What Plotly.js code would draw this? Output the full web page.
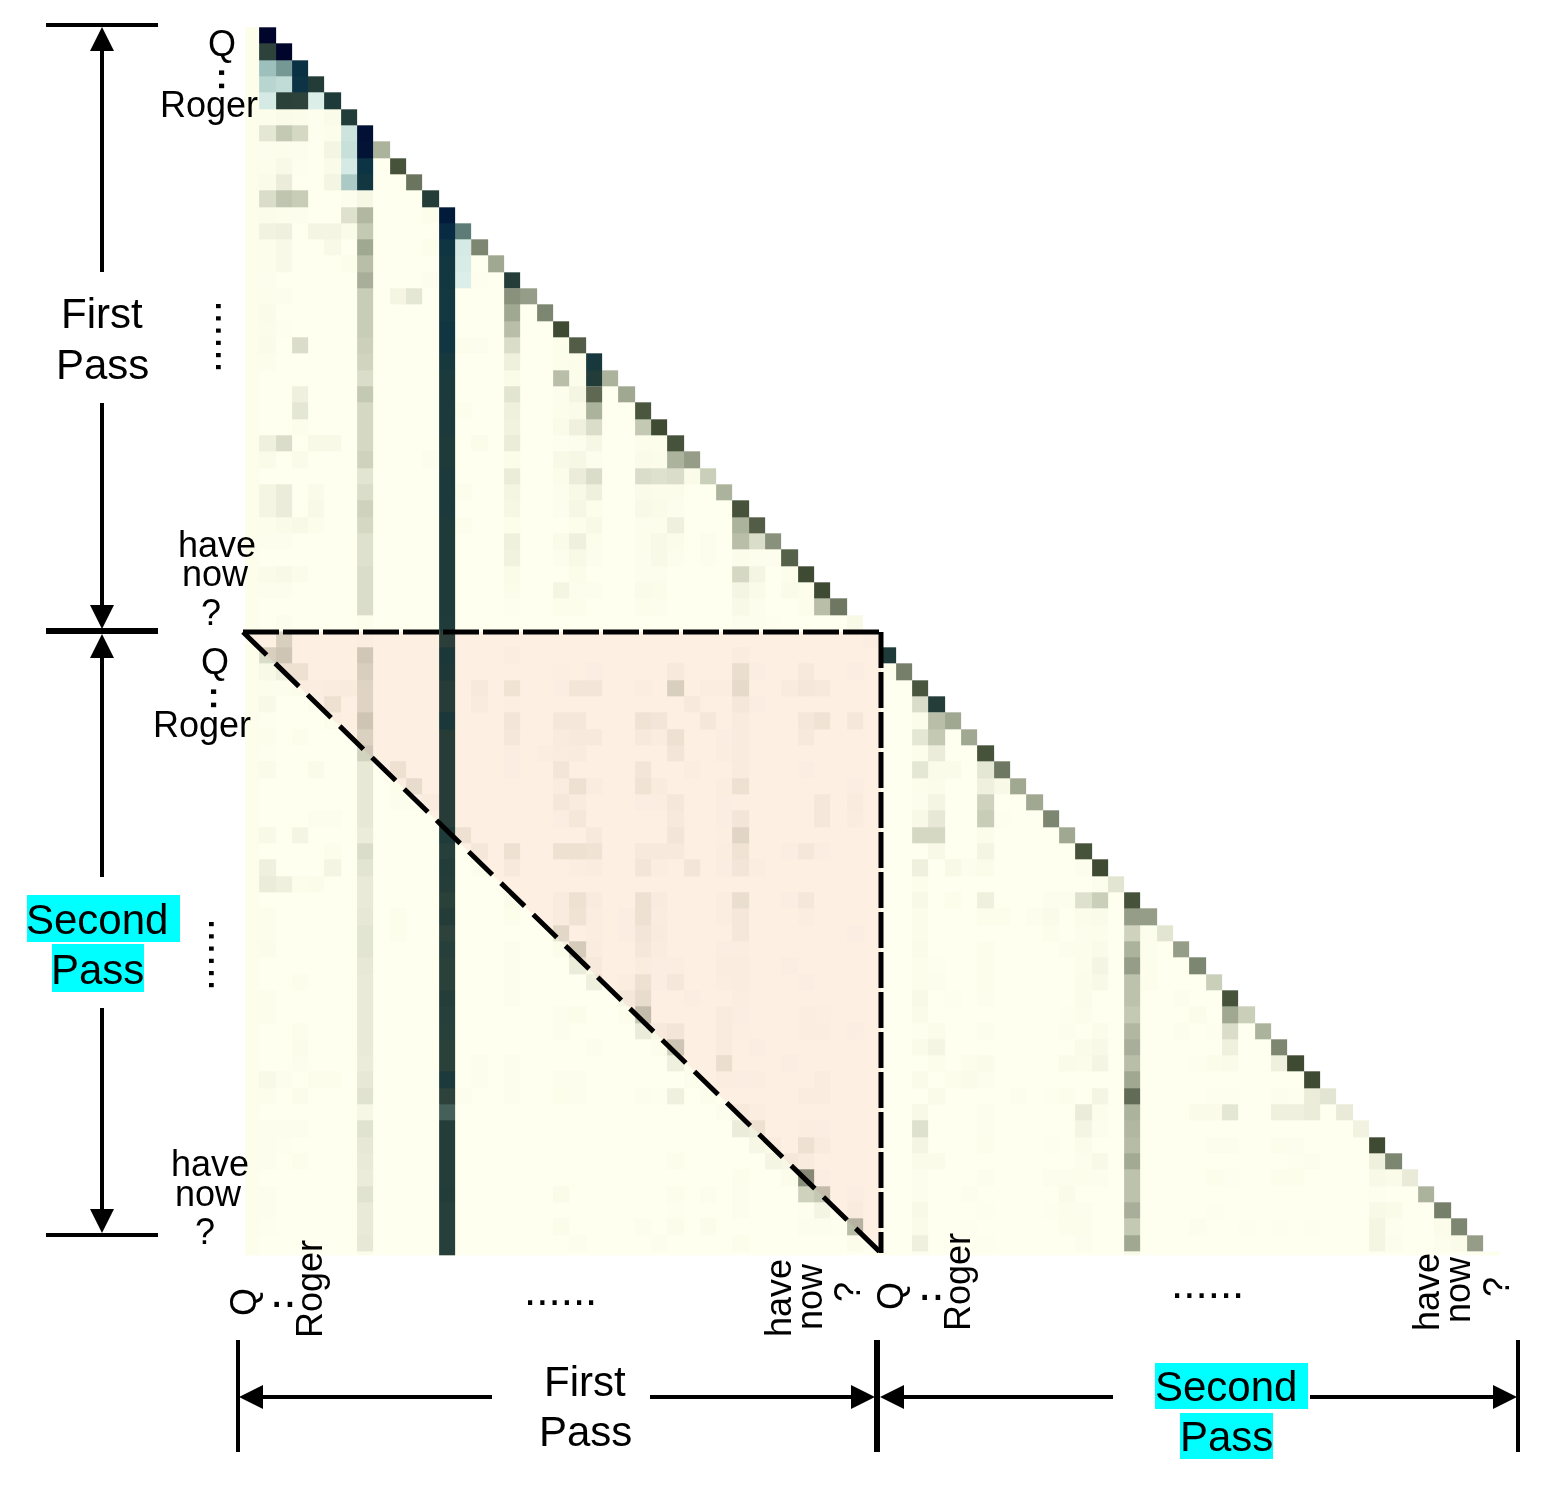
<!DOCTYPE html>
<html>
<head>
<meta charset="utf-8">
<script src="https://cdn.plot.ly/plotly-3.0.1.min.js"></script>
<style>
    html, body { margin: 0; background: #fff; }
    /* the pink triangle tints the heatmap, the dark bar stays dark */
    .shapelayer path { mix-blend-mode: multiply; }
</style>
</head>
<body>
<div id="chart" style="width:1544px;height:1489px"></div>
<script>
// ============================================================================
// data: values, row = output token, col = input token
// ============================================================================

// diagonal cell of each row (row r sits in col r + 1), null where coolCells has it
const diagonal = [
    null, null, null, null, null, null, null, .4, .95, .72,
    null, null, null, .6, .45, null, .5, .6, 1, .88,
    null, .4, .45, .92, 1, .95, .5, .27, .4, .95,
    .88, .55, .85, 1, 1, .7, .06, .02, null, .65,
    .92, null, .45, .45, .95, .7, .45, .45, .6, .45,
    .95, 1, .16, .95, .5, .16, .5, .6, .27, .95,
    .27, .4, .6, 1, 1, .16, .13, .09, 1, .6,
    .13, .4, .65, .6, .5, .01
];

// the two columns that stay grey all the way down, starting at row 10
const column7 = [
    .07, .38, .3, .45, .35, .42, .28, .28, .28, .26,
    .24, .2, .3, .22, .22, .22, .25, .16, .2, .25,
    .22, .18, .18, .2, .2, .2, .03, .03, .24, .2,
    .17, .17, .25, .19, .24, .14, .14, .14, .14, .12,
    .2, .16, .13, .13, .14, .16, .16, .14, .13, .13,
    .13, .13, .13, .12, .14, .17, .07, .17, .14, .13,
    .12, .17, .13, .13, .14, .04
];
// second pass column, starting at row 54
const column54 = [
    .5, .25, .4, .5, .33, .33, .3, .38, .42, .35,
    .45, .78, .4, .38, .36, .44, .33, .33, .42, .3,
    .45, .06
];

// the dark bar in col 12, starting at row 11
const column12 = [
    .92, .85, .78, .75, .75, .74, .74, .76, .76, .72,
    .7, .68, .68, .68, .66, .66, .68, .68, .68, .66,
    .66, .66, .66, .66, .66, .64, .5, .68, .65, .55,
    .55, .7, .55, .55, .55, .55, .55, .55, .65, .55,
    .62, .58, .52, .6, .5, .55, .52, .52, .58, .55,
    .54, .52, .52, .68, .5, .45, .58, .58, .58, .58,
    .62, .55, .55, .55, .55
];

// cells in the blue ramp: [row, col, value]
const coolCells = [
    [0, 1, 1], [1, 1, .5], [1, 2, 1], [2, 1, .25], [2, 2, .35], [2, 3, .82],
    [3, 1, .15], [3, 2, .12], [3, 3, .8], [3, 4, .6], [4, 1, .05], [4, 2, .52],
    [4, 3, .5], [4, 4, .03], [4, 5, .65], [5, 6, .62], [6, 6, .08], [6, 7, .96],
    [7, 6, .1], [7, 7, .95], [8, 6, .05], [8, 7, .8], [9, 6, .2], [9, 7, .75],
    [10, 11, .58], [12, 13, .4], [13, 13, .05], [14, 13, .04], [15, 13, .03],
    [15, 16, .58], [20, 21, .72], [21, 21, .62], [38, 39, .65], [41, 42, .58]
];

// remaining cells per row as col, value, col, value ...
const firstPassRows = [
    [], [], [], [], [],
    [1, .03, 2, .05, 3, .04, 4, .01, 5, .05],
    [1, .15, 2, .3, 3, .22, 4, .01, 5, .03],
    [1, .02, 2, .03, 3, .02, 5, .08],
    [1, .03, 2, .06, 3, .01, 5, .05],
    [1, .05, 2, .12, 5, .08],
    [1, .2, 2, .32, 3, .28, 6, .02],
    [1, .04, 2, .03, 3, .02, 6, .18, 11, .03],
    [1, .09, 2, .1, 4, .08, 5, .08, 6, .05],
    [1, .03, 2, .06, 5, .06, 11, .03],
    [1, .03, 2, .06, 6, .03],
    [1, .02, 11, .02, 14, .01],
    [1, .03, 2, .02, 9, .08, 10, .15, 16, .55],
    [1, .05, 16, .45],
    [1, .04, 2, .01, 16, .35],
    [1, .05, 3, .2, 13, .03, 14, .02, 16, .2, 19, .03],
    [1, .03, 16, .1, 19, .03, 20, .04],
    [16, .05, 19, .35, 20, .04],
    [3, .1, 16, .16, 19, .02, 20, .08, 21, .8],
    [3, .15, 13, .03, 16, .1, 19, .03, 20, .05, 21, .4],
    [3, .03, 16, .09, 19, .05, 20, .1, 21, .2, 24, .3],
    [1, .1, 2, .2, 4, .06, 5, .06, 14, .04, 16, .12, 19, .01, 20, .02, 21, .07, 24, .03, 25, .03],
    [1, .05, 3, .05, 11, .02, 16, .04, 19, .06, 20, .07, 21, .02, 24, .05, 25, .04, 26, .4],
    [16, .12, 19, .04, 20, .12, 21, .2, 24, .2, 25, .18, 26, .2, 27, .05],
    [1, .08, 2, .12, 4, .05, 13, .03, 16, .08, 19, .02, 20, .06, 21, .1, 24, .05, 25, .04, 26, .04],
    [1, .08, 2, .12, 4, .06, 16, .07, 19, .02, 20, .07, 21, .03, 24, .06, 25, .05, 26, .02],
    [1, .03, 2, .05, 3, .06, 4, .03, 13, .03, 16, .03, 20, .03, 21, .06, 24, .02, 25, .03, 26, .1, 30, .4],
    [1, .02, 2, .02, 16, .1, 19, .05, 20, .1, 21, .03, 24, .03, 25, .06, 26, .04, 28, .02, 30, .35, 31, .2],
    [16, .09, 19, .02, 20, .06, 21, .02, 24, .02, 25, .06, 26, .02, 28, .02, 30, .04, 31, .02, 32, .02],
    [1, .05, 2, .06, 3, .04, 16, .05, 20, .04, 24, .02, 25, .02, 30, .22, 31, .08, 33, .03],
    [1, .02, 2, .02, 16, .04, 19, .08, 20, .02, 21, .02, 24, .05, 25, .04, 30, .08, 31, .05, 33, .05, 34, .03],
    [16, .01, 19, .03, 20, .03, 24, .03, 25, .02, 30, .06, 31, .02, 34, .03, 35, .35],
    [2, .02, 30, .02, 31, .02, 32, .01],
    [2, .2]
];

const secondPassLeftRows = [
    [1, .2, 2, .25, 16, .03, 30, .04],
    [1, .06, 2, .1, 3, .1, 19, .01, 21, .02, 26, .06, 30, .12, 31, .02, 34, .06, 37, .02],
    [1, .03, 2, .02, 3, .04, 4, .03, 5, .04, 6, .05, 14, .06, 16, .09, 19, .02, 20, .08, 21, .08, 24, .03, 26, .2, 28, .03, 29, .03, 30, .14, 33, .05, 34, .07, 35, .06],
    [1, .06, 4, .02, 5, .1, 14, .05, 16, .01, 27, .06, 30, .07, 31, .02],
    [1, .01, 5, .03, 16, .08, 19, .07, 20, .07, 24, .09, 25, .08, 28, .07, 30, .05, 34, .07, 35, .09, 37, .07],
    [1, .03, 3, .03, 16, .07, 19, .05, 20, .06, 21, .06, 24, .06, 25, .04, 26, .1, 29, .02, 30, .05, 34, .06],
    [1, .01, 16, .02, 18, .03, 19, .04, 20, .05, 26, .08, 29, .03, 30, .05],
    [1, .05, 4, .05, 9, .1, 16, .02, 19, .08, 24, .08, 27, .03, 30, .05, 34, .02],
    [9, .03, 10, .13, 19, .04, 20, .1, 21, .04, 24, .09, 25, .05, 29, .03, 30, .1, 37, .02],
    [9, .02, 10, .02, 11, .05, 19, .07, 20, .05, 24, .02, 25, .03, 26, .07, 29, .02, 30, .01, 35, .07, 37, .05],
    [4, .02, 5, .02, 19, .02, 20, .07, 26, .06, 29, .02, 30, .08, 35, .07, 37, .04],
    [1, .06, 3, .08, 13, .1, 21, .06, 26, .08, 29, .01, 30, .16],
    [5, .03, 14, .07, 16, .1, 19, .1, 20, .1, 21, .09, 24, .06, 25, .06, 26, .06, 29, .03, 30, .09, 33, .02, 34, .07, 35, .02],
    [1, .1, 5, .08, 14, .03, 16, .06, 20, .03, 21, .04, 24, .08, 25, .03, 27, .08, 29, .02, 30, .08, 31, .03],
    [1, .12, 2, .1, 3, .03, 4, .04],
    [16, .05, 19, .05, 20, .1, 21, .05, 24, .1, 25, .05, 29, .03, 30, .12, 33, .02, 34, .07],
    [1, .03, 9, .03, 16, .03, 19, .05, 20, .09, 21, .03, 23, .02, 24, .1, 25, .04, 29, .03, 30, .07, 34, .03],
    [1, .03, 9, .03, 19, .15, 21, .03, 23, .02, 24, .08, 25, .05, 30, .07, 37, .02],
    [1, .04, 16, .02, 19, .04, 20, .22, 21, .04, 24, .07, 25, .04, 29, .02, 30, .03],
    [16, .02, 20, .12, 21, .06, 24, .04, 25, .02, 26, .03, 29, .04, 30, .04, 33, .02],
    [3, .03, 16, .02, 21, .1, 23, .03, 24, .1, 25, .02, 26, .07, 29, .03, 30, .04, 34, .02],
    [1, .03, 16, .02, 23, .07, 24, .13, 27, .02, 30, .03],
    [1, .03, 19, .02, 20, .04, 23, .03, 24, .3, 29, .05, 30, .02, 34, .03, 35, .01],
    [3, .03, 19, .02, 24, .12, 25, .06, 26, .08, 29, .05, 30, .01, 34, .03, 35, .03, 37, .02],
    [3, .04, 21, .02, 25, .03, 26, .25, 29, .05, 31, .02],
    [3, .02, 14, .02, 16, .02, 26, .1, 29, .12, 33, .02],
    [1, .06, 2, .02, 4, .03, 5, .03, 14, .02, 16, .02, 19, .02, 20, .02, 27, .03, 29, .03, 30, .02, 31, .03, 35, .04],
    [1, .03, 3, .04, 13, .02, 16, .02, 19, .03, 20, .02, 24, .02, 25, .01, 26, .1, 28, .03, 34, .04, 35, .04],
    [29, .02, 30, .06, 31, .03],
    [1, .02, 2, .02, 3, .02, 30, .12, 31, .1, 34, .03, 35, .02],
    [1, .02, 2, .01, 31, .07, 32, .05, 34, .1, 35, .05],
    [1, .02, 3, .03, 26, .03, 32, .08, 33, .07, 34, .05],
    [30, .03, 33, .04, 34, .55, 35, .02],
    [1, .02, 19, .05, 26, .03, 28, .02, 30, .02, 34, .25, 35, .3, 37, .02],
    [1, .02, 26, .01, 30, .02, 34, .01, 35, .08, 37, .05],
    [1, .01, 19, .04, 24, .02, 26, .04, 28, .04, 34, .02, 35, .02, 36, .01, 37, .35],
    [20, .02, 25, .02, 30, .03, 37, .04],
    []
];

const secondPassRightRows = [
    [],
    [39, .03],
    [],
    [41, .2],
    [41, .04, 42, .35],
    [41, .15, 42, .3],
    [41, .03, 42, .12],
    [41, .15, 42, .05, 43, .05, 45, .15],
    [41, .03, 42, .04, 45, .1, 46, .06],
    [41, .02, 42, .08, 45, .25],
    [41, .06, 42, .14, 45, .28, 46, .01],
    [41, .22, 42, .22, 45, .04],
    [42, .06, 45, .08],
    [41, .1, 43, .06, 44, .02, 45, .04, 51, .02],
    [41, .03, 52, .02],
    [41, .06, 43, .03, 45, .1, 49, .02, 50, .02, 51, .18, 52, .27],
    [41, .04, 45, .03, 46, .03, 48, .02, 49, .05, 51, .04, 52, .05],
    [41, .04, 49, .03, 51, .02, 52, .03, 55, .02],
    [41, .05, 45, .03, 50, .02, 51, .03, 52, .05, 55, .02],
    [41, .03, 42, .01, 45, .03, 51, .03, 52, .08, 55, .03],
    [41, .03, 42, .02, 45, .03, 51, .04, 52, .06, 55, .03],
    [41, .06, 43, .01, 45, .02, 51, .04, 57, .02],
    [41, .05, 50, .01, 51, .03, 58, .04, 60, .45],
    [41, .01, 42, .04, 45, .02, 50, .02, 52, .04, 57, .02, 59, .01, 60, .2],
    [41, .05, 42, .08, 51, .05, 52, .06, 60, .1],
    [42, .03, 44, .03, 45, .05, 50, .05, 51, .04, 52, .08, 58, .01, 59, .04, 60, .05, 63, .1],
    [41, .05, 43, .03, 44, .05, 45, .02],
    [42, .05, 47, .02, 49, .01, 50, .03, 52, .08, 59, .01, 60, .01, 63, .02, 64, .01, 65, .12],
    [41, .06, 45, .02, 51, .12, 52, .03, 58, .05, 59, .05, 60, .15, 63, .1, 64, .1, 65, .12],
    [41, .18, 45, .02, 51, .08, 52, .02],
    [41, .08, 45, .03, 49, .01, 51, .04, 59, .02, 60, .02, 63, .03, 64, .02],
    [41, .05, 42, .05, 51, .02, 52, .06, 64, .01, 65, .02, 69, .1],
    [41, .02, 45, .02, 49, .02, 50, .02, 51, .03, 52, .02, 59, .03, 60, .01, 63, .03, 64, .03, 69, .06, 70, .05],
    [41, .02, 44, .02, 50, .05, 69, .01],
    [41, .06, 45, .01, 49, .01, 50, .03, 51, .02, 59, .01, 69, .06, 70, .05],
    [41, .05, 44, .01, 50, .03, 51, .03, 58, .02, 61, .01, 63, .01, 65, .01, 69, .08, 70, .01, 73, .04],
    [41, .1, 45, .01, 51, .02, 69, .08, 70, .02, 73, .02, 74, .05],
    [41, .02]
];

// ============================================================================
// page geometry
// ============================================================================

const WIDTH = 1544;
const HEIGHT = 1489;
const CELL = 16.32;
const COL1_LEFT = 259.3;
const ROW0_TOP = 27.3;

const px = x => x / WIDTH;
const py = y => 1 - y / HEIGHT;

// ============================================================================
// heatmap matrices
// ============================================================================

function buildMatrices() {
    const rows = 76;
    const cols = 77;
    const olive = [];
    const cool = [];

    for (let r = 0; r < rows; r++) {
        const last = r === rows - 1 ? cols - 1 : r + 1;
        olive.push(Array.from({ length: cols }, (_, c) => (c === 0 ? .03 : c <= last ? 0 : null)));
        cool.push(new Array(cols).fill(null));
    }

    diagonal.forEach((v, r) => { if (v !== null) olive[r][r + 1] = v; });
    column7.forEach((v, i) => { olive[i + 10][7] = v; });
    column54.forEach((v, i) => { olive[i + 54][54] = v; });
    column12.forEach((v, i) => { cool[i + 11][12] = v; });
    coolCells.forEach(([r, c, v]) => { cool[r][c] = v; });

    [...firstPassRows, ...secondPassLeftRows].forEach((pairs, r) => {
        for (let i = 0; i < pairs.length; i += 2) olive[r][pairs[i]] = pairs[i + 1];
    });
    secondPassRightRows.forEach((pairs, i) => {
        for (let k = 0; k < pairs.length; k += 2) olive[i + 38][pairs[k]] = pairs[k + 1];
    });

    return { olive, cool, rows, cols };
}

// ============================================================================
// annotations: labels and shapes
// ============================================================================

function label(text, x, y, size, angle = 0) {
    return {
        text, xref: 'paper', yref: 'paper', x: px(x), y: py(y),
        xanchor: 'center', yanchor: 'middle', showarrow: false,
        textangle: angle, font: { family: 'Liberation Sans', size, color: '#000' }
    };
}

function line(x0, y0, x1, y1, width = 4, dash = 'solid') {
    return {
        type: 'line', xref: 'paper', yref: 'paper',
        x0: px(x0), y0: py(y0), x1: px(x1), y1: py(y1),
        line: { color: '#000', width, dash }
    };
}

function poly(points, fill) {
    const d = points.map(([x, y], i) => `${i ? 'L' : 'M'}${px(x)},${py(y)}`).join(' ') + ' Z';
    return { type: 'path', xref: 'paper', yref: 'paper', path: d, fillcolor: fill, line: { width: 0 } };
}

function rect(x0, y0, x1, y1, fill) {
    return {
        type: 'rect', xref: 'paper', yref: 'paper', layer: 'above',
        x0: px(x0), y0: py(y0), x1: px(x1), y1: py(y1), fillcolor: fill, line: { width: 0 }
    };
}

const arrowUp = (x, y) => poly([[x, y], [x - 12, y + 24], [x + 12, y + 24]], '#000');
const arrowDown = (x, y) => poly([[x, y], [x - 12, y - 24], [x + 12, y - 24]], '#000');
const arrowLeft = (x, y) => poly([[x, y], [x + 24, y - 12], [x + 24, y + 12]], '#000');
const arrowRight = (x, y) => poly([[x, y], [x - 24, y - 12], [x - 24, y + 12]], '#000');

function buildShapes() {
    return [
        // pink region over the second pass / first pass block
        poly([[243, 632], [881, 632], [881, 1253]], '#feeff2'),

        // dashed outline of the region
        line(243, 632, 881, 632, 5, '36px,4px'),
        line(881, 632, 881, 1253, 5, '36px,4px'),
        line(243, 632, 881, 1253, 5, '33px,12px'),

        // left brackets
        line(46, 25, 158, 25),
        line(46, 631, 158, 631, 6),
        line(46, 1235, 158, 1235),
        line(102, 45, 102, 272),
        line(102, 403, 102, 610),
        line(102, 650, 102, 877),
        line(102, 1008, 102, 1215),
        arrowUp(102, 27), arrowDown(102, 629),
        arrowUp(102, 634), arrowDown(102, 1233),

        // bottom brackets
        line(238, 1340, 238, 1452),
        line(877, 1340, 877, 1452, 6),
        line(1518, 1340, 1518, 1452),
        line(258, 1397, 492, 1397),
        line(650, 1397, 855, 1397),
        line(900, 1397, 1113, 1397),
        line(1310, 1397, 1498, 1397),
        arrowLeft(239, 1397), arrowRight(875, 1397),
        arrowLeft(880, 1397), arrowRight(1517, 1397),

        // highlighted labels
        rect(27, 895, 180, 942, '#00ffff'),
        rect(52, 944, 144, 992, '#00ffff'),
        rect(1155, 1363, 1308, 1409, '#00ffff'),
        rect(1180, 1413, 1273, 1459, '#00ffff')
    ];
}

function buildAnnotations() {
    const big = 42;
    const small = 36;
    const dots = 44;
    const pair = 48;
    return [
        label('First', 102, 314, big), label('Pass', 102, 364, big),
        label('Second', 97, 919, big), label('Pass', 97, 969, big),
        label('First', 585, 1381, big), label('Pass', 585, 1431, big),
        label('Second', 1226, 1386, big), label('Pass', 1226, 1436, big),

        label('Q', 222, 43, small), label('..', 235, 79, pair, 90), label('Roger', 209, 105, small),
        label('......', 232, 336, dots, 90),
        label('have', 217, 545, small), label('now', 215, 574, small), label('?', 211, 612, small),

        label('Q', 215, 661, small), label('..', 228, 698, pair, 90), label('Roger', 202, 724, small),
        label('......', 225, 955, dots, 90),
        label('have', 210, 1163, small), label('now', 208, 1193, small), label('?', 205, 1231, small),

        label('Q', 243, 1302, small, -90), label('..', 283, 1290, pair), label('Roger', 309, 1289, small, -90),
        label('......', 560, 1289, dots),
        label('have', 778, 1298, small, -90), label('now', 809, 1297, small, -90), label('?', 847, 1292, small, -90),

        label('Q', 890, 1296, small, -90), label('..', 931, 1283, pair), label('Roger', 957, 1282, small, -90),
        label('......', 1207, 1282, dots),
        label('have', 1426, 1292, small, -90), label('now', 1457, 1290, small, -90), label('?', 1496, 1287, small, -90)
    ];
}

// ============================================================================
// plot
// ============================================================================

function drawChart() {
    const { olive, cool, rows, cols } = buildMatrices();

    // cell edges, first col and last row are cut off in the source picture
    const xEdges = Array.from({ length: cols + 1 }, (_, i) => (i === 0 ? -0.37 : i - 0.5));
    const yEdges = Array.from({ length: rows + 1 }, (_, i) => (i === rows ? 74.75 : i - 0.5));

    const heatmap = (z, colorscale) => ({
        type: 'heatmap', z, x: xEdges, y: yEdges, zmin: 0, zmax: 1,
        colorscale, showscale: false, hoverinfo: 'skip', xgap: 0, ygap: 0
    });

    const traces = [
        heatmap(olive, [[0, '#feffef'], [.05, '#fafbe9'], [.3, '#c4c9b3'], [.6, '#7d8671'], [1, '#3f4a33']]),
        heatmap(cool, [
            [0, '#e3f5ee'], [.3, '#8fb5b2'], [.5, '#2c423b'], [.6, '#233c38'],
            [.7, '#1a3a3c'], [.8, '#0c3444'], [.9, '#03203f'], [1, '#00052c']
        ])
    ];

    const col1Center = COL1_LEFT + CELL / 2;
    const row0Center = ROW0_TOP + CELL / 2;

    const layout = {
        width: WIDTH,
        height: HEIGHT,
        margin: { l: 0, r: 0, t: 0, b: 0 },
        paper_bgcolor: '#fff',
        plot_bgcolor: 'rgba(0,0,0,0)',
        xaxis: { visible: false, range: [1 - col1Center / CELL, 1 + (WIDTH - col1Center) / CELL] },
        yaxis: { visible: false, range: [(HEIGHT - row0Center) / CELL, -row0Center / CELL] },
        shapes: buildShapes(),
        annotations: buildAnnotations()
    };

    return Plotly.newPlot('chart', traces, layout, { staticPlot: true, displayModeBar: false });
}

document.addEventListener('DOMContentLoaded', drawChart);
</script>
</body>
</html>
